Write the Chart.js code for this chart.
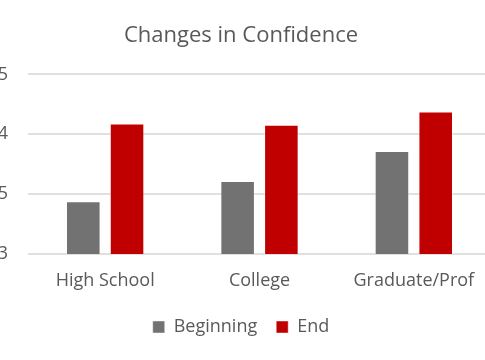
<!DOCTYPE html>
<html>
<head>
<meta charset="utf-8">
<script src="https://cdn.jsdelivr.net/npm/chart.js@4.4.1/dist/chart.umd.min.js"></script>
<style>
  html, body { margin: 0; padding: 0; background: #ffffff; overflow: hidden; width: 485px; height: 360px; }
  #wrap { position: absolute; left: -30px; top: 0; width: 542px; height: 360px; }
</style>
</head>
<body>
<div id="wrap"><canvas id="c" width="542" height="360"></canvas></div>
<script>
const categories = ["High School", "College", "Graduate/Prof"];
const beginning = [3.44, 3.61, 3.86];
const end = [4.09, 4.08, 4.19];
const seriesNames = ["Beginning", "End"];
const titleText = "Changes in Confidence";

const FONT = "'Open Sans', sans-serif";
const TEXT = "#595959";

new Chart(document.getElementById("c"), {
  type: "bar",
  data: {
    labels: categories,
    datasets: [
      { label: seriesNames[0], data: beginning, backgroundColor: "#717271", borderColor: "rgba(255,255,255,0.45)", borderWidth: 1, barPercentage: 0.79, categoryPercentage: 0.567 },
      { label: seriesNames[1], data: end, backgroundColor: "#C00000", borderColor: "rgba(255,255,255,0.45)", borderWidth: 1, barPercentage: 0.79, categoryPercentage: 0.567 }
    ]
  },
  options: {
    responsive: false,
    animation: false,
    layout: { padding: { left: 21, right: 21, top: 0, bottom: 14 } },
    plugins: {
      title: {
        display: true, text: titleText, color: TEXT,
        font: { family: FONT, size: 22, weight: "normal" },
        padding: { top: 23, bottom: 25 }
      },
      legend: {
        position: "bottom",
        labels: { color: TEXT, font: { family: FONT, size: 18 }, boxWidth: 12, boxHeight: 12, padding: 19 }
      },
      tooltip: { enabled: false }
    },
    scales: {
      x: {
        afterFit: (s) => { s.height = 45; },
        grid: { display: false },
        border: { display: false },
        ticks: { color: TEXT, font: { family: FONT, size: 18 }, padding: 8 }
      },
      y: {
        min: 3, max: 4.5,
        afterFit: (s) => { s.width = 37; },
        grid: { color: "#e0e0e0", lineWidth: 2, drawTicks: false },
        border: { display: false },
        ticks: { stepSize: 0.5, color: TEXT, font: { family: FONT, size: 18 }, padding: 20,
                 callback: (v) => String(Number(v)) }
      }
    }
  }
});
</script>
</body>
</html>
